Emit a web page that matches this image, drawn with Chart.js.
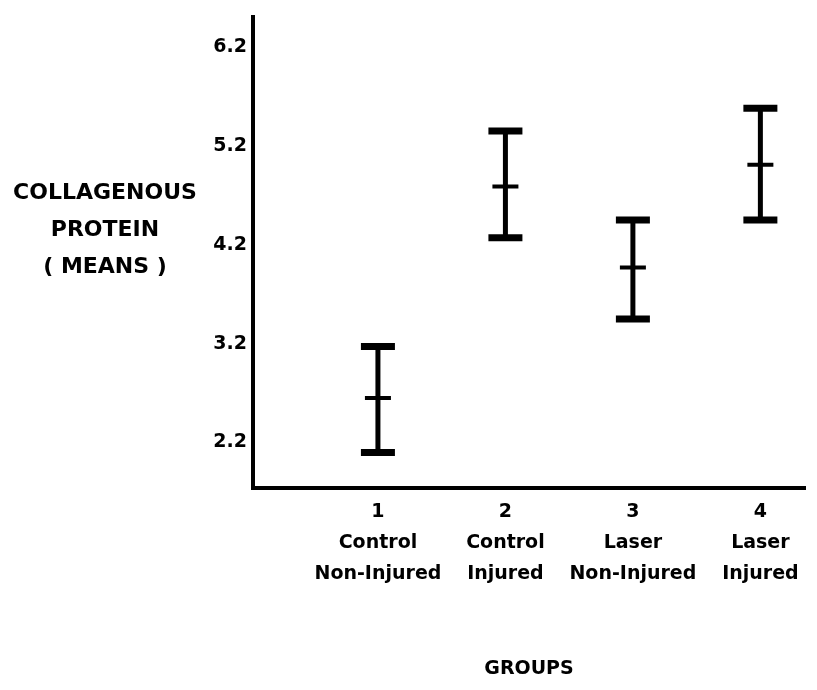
<!DOCTYPE html>
<html>
<head>
    <title>Collagenous Protein by Group</title>
    <style>
        body {
            margin: 0;
            padding: 0;
            background: #ffffff;
        }
        #chart-container {
            width: 817px;
            height: 690px;
            position: relative;
        }
    </style>
    <script src="https://cdn.jsdelivr.net/npm/chart.js"></script>
</head>
<body>
    <div id="chart-container">
        <canvas id="proteinChart"></canvas>
    </div>
    <script>
        // data
        const groupX = [1, 2, 3, 4];
        const groupNumbers = ['1', '2', '3', '4'];
        const groupNames = [
            ['Control', 'Non-Injured'],
            ['Control', 'Injured'],
            ['Laser', 'Non-Injured'],
            ['Laser', 'Injured']
        ];
        const means = [2.65, 4.79, 3.97, 5.01];
        const upper = [3.17, 5.35, 4.45, 5.58];
        const lower = [2.10, 4.27, 3.45, 4.45];
        const yTicks = [2.2, 3.2, 4.2, 5.2, 6.2];
        const yTitleLines = ['COLLAGENOUS', 'PROTEIN', '( MEANS )'];
        const xTitle = 'GROUPS';

        const FONT = "'DejaVu Sans', 'Liberation Sans', sans-serif";

        // vertical stems, broken by null points between groups
        const stemPoints = [];
        groupX.forEach((x, i) => {
            stemPoints.push({ x: x, y: lower[i] }, { x: x, y: upper[i] }, { x: x + 0.5, y: null });
        });
        const capPoints = groupX.map((x, i) => ({ x: x, y: upper[i] }))
            .concat(groupX.map((x, i) => ({ x: x, y: lower[i] })));
        const meanPoints = groupX.map((x, i) => ({ x: x, y: means[i] }));

        const yTitlePlugin = {
            id: 'yTitle',
            afterDraw(chart) {
                const ctx = chart.ctx;
                ctx.save();
                ctx.fillStyle = '#000';
                ctx.font = 'bold 22px ' + FONT;
                ctx.textAlign = 'center';
                ctx.textBaseline = 'middle';
                yTitleLines.forEach((line, i) => {
                    ctx.fillText(line, 105, 193 + i * 37);
                });
                ctx.restore();
            }
        };

        const ctx = document.getElementById('proteinChart').getContext('2d');
        new Chart(ctx, {
            type: 'scatter',
            data: {
                datasets: [
                    {
                        label: 'range',
                        data: stemPoints,
                        showLine: true,
                        spanGaps: false,
                        borderColor: '#000',
                        borderWidth: 5,
                        pointRadius: 0
                    },
                    {
                        label: 'caps',
                        data: capPoints,
                        pointStyle: 'line',
                        pointRadius: 17,
                        borderColor: '#000',
                        backgroundColor: '#000',
                        pointBorderWidth: 7
                    },
                    {
                        label: 'means',
                        data: meanPoints,
                        pointStyle: 'line',
                        pointRadius: 13,
                        borderColor: '#000',
                        backgroundColor: '#000',
                        pointBorderWidth: 4
                    }
                ]
            },
            options: {
                responsive: true,
                maintainAspectRatio: false,
                animation: false,
                events: [],
                layout: {
                    autoPadding: false,
                    padding: { top: 12, right: 12, left: 0, bottom: 0 }
                },
                plugins: {
                    legend: { display: false },
                    tooltip: { enabled: false }
                },
                scales: {
                    x: {
                        type: 'linear',
                        min: 0.02,
                        max: 4.35,
                        grid: { display: false, drawTicks: false },
                        border: { display: true, width: 4, color: '#000' },
                        afterBuildTicks: function(scale) {
                            scale.ticks = groupX.map(v => ({ value: v }));
                        },
                        afterFit: function(scale) {
                            scale.height = 202;
                        },
                        ticks: {
                            autoSkip: false,
                            maxRotation: 0,
                            padding: 8,
                            color: '#000',
                            font: { family: FONT, size: 19, weight: 'bold', lineHeight: 1.65 },
                            callback: function(value) {
                                const i = groupX.indexOf(value);
                                return i < 0 ? '' : [groupNumbers[i]].concat(groupNames[i]);
                            }
                        },
                        title: {
                            display: true,
                            text: xTitle,
                            color: '#000',
                            font: { family: FONT, size: 19, weight: 'bold' },
                            padding: { top: 0, bottom: 10 }
                        }
                    },
                    y: {
                        type: 'linear',
                        min: 1.74,
                        max: 6.5,
                        grid: { display: false, drawTicks: false },
                        border: { display: true, width: 4, color: '#000' },
                        afterBuildTicks: function(scale) {
                            scale.ticks = yTicks.map(v => ({ value: v }));
                        },
                        afterFit: function(scale) {
                            scale.width = 253;
                        },
                        ticks: {
                            padding: 6,
                            color: '#000',
                            font: { family: FONT, size: 19, weight: 'bold' },
                            callback: function(value) {
                                return value.toFixed(1);
                            }
                        }
                    }
                }
            },
            plugins: [yTitlePlugin]
        });
    </script>
</body>
</html>
